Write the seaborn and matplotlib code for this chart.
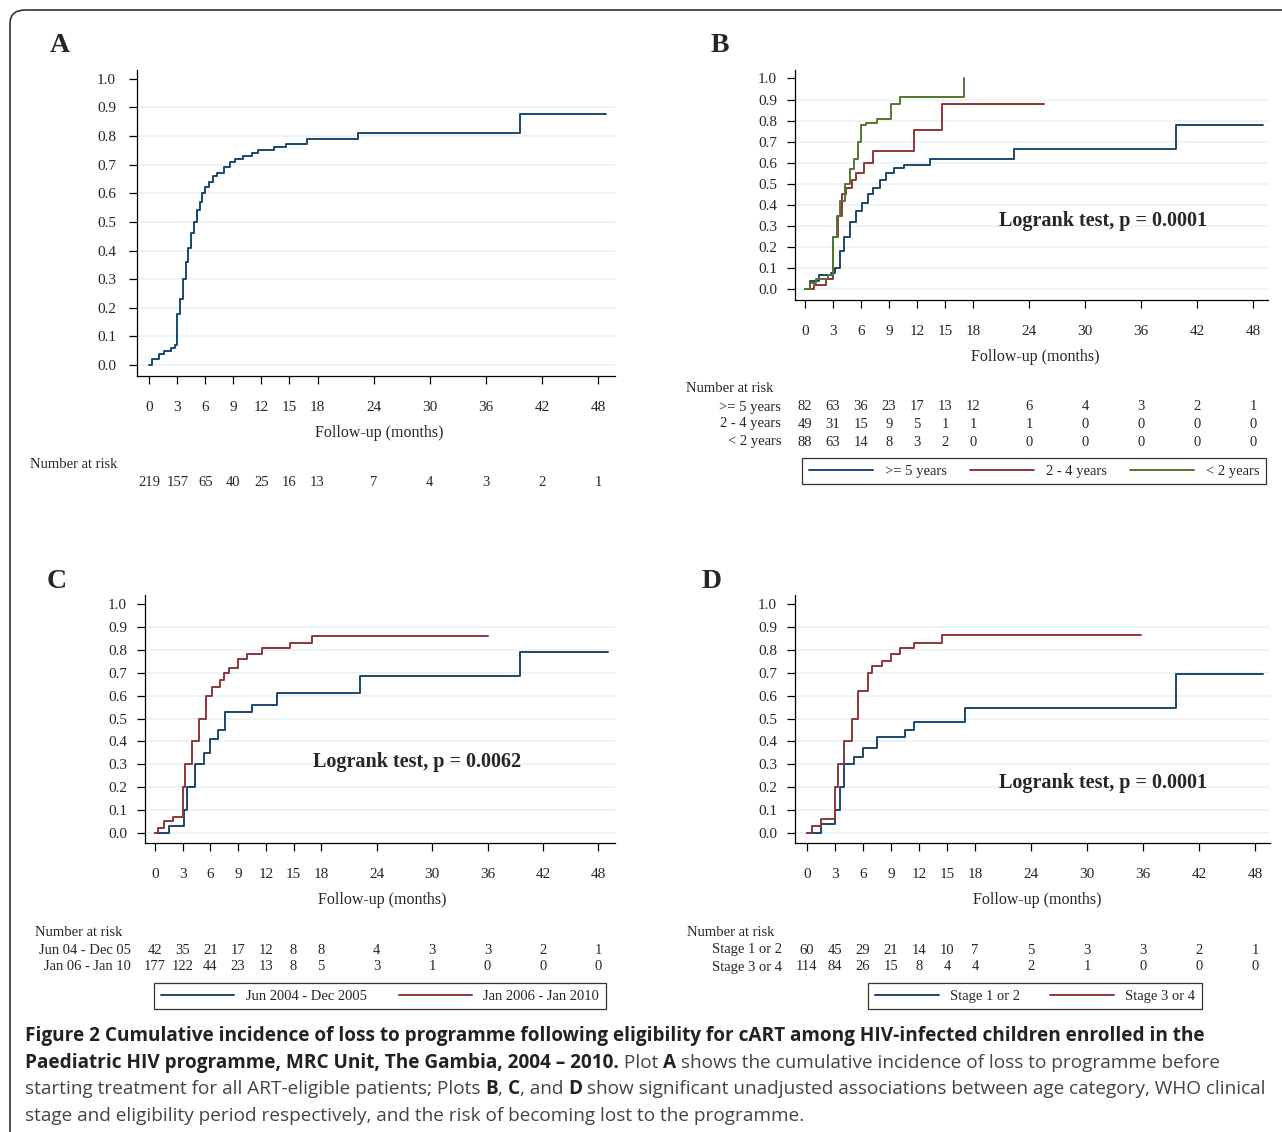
import matplotlib
matplotlib.use("Agg")
import matplotlib.pyplot as plt
import seaborn as sns
import pandas as pd
from matplotlib.patches import FancyBboxPatch
from matplotlib.lines import Line2D

sns.set_theme(style="white")
plt.rcParams['font.family'] = ['Liberation Serif', 'DejaVu Serif']

W, H = 1282, 1132
BLUE, RED, GREEN = "#1a476f", "#90353b", "#55752f"

xticks = [0, 3, 6, 9, 12, 15, 18, 24, 30, 36, 42, 48]
yticks = [0.0, 0.1, 0.2, 0.3, 0.4, 0.5, 0.6, 0.7, 0.8, 0.9, 1.0]

# ---- data (time in months, cumulative incidence) ----
A_t = [0, 0.3, 1.0, 1.6, 2.3, 2.8, 3.0, 3.3, 3.6, 3.9, 4.2, 4.5, 4.8, 5.1, 5.4, 5.7, 6.0, 6.4, 6.8, 7.3, 8.0, 8.6, 9.2, 10.0, 11.0, 11.6, 13.3, 14.6, 16.9, 22.3, 39.6, 48.8]
A_y = [0.0, 0.02, 0.04, 0.05, 0.06, 0.07, 0.18, 0.23, 0.30, 0.36, 0.41, 0.46, 0.50, 0.54, 0.57, 0.60, 0.62, 0.64, 0.66, 0.67, 0.69, 0.71, 0.72, 0.73, 0.74, 0.75, 0.76, 0.77, 0.79, 0.81, 0.875, 0.875]

B1_t = [0, 0.5, 1.5, 2.8, 3.2, 3.7, 4.2, 4.8, 5.5, 6.1, 6.7, 7.3, 8.0, 8.7, 9.5, 10.6, 13.4, 22.4, 39.7, 49.1]
B1_y = [0.0, 0.04, 0.07, 0.08, 0.10, 0.18, 0.25, 0.32, 0.37, 0.41, 0.45, 0.48, 0.52, 0.55, 0.575, 0.59, 0.62, 0.665, 0.78, 0.78]
B2_t = [0, 1.0, 2.2, 3.0, 3.5, 4.0, 4.4, 5.0, 5.5, 6.3, 7.3, 11.7, 14.7, 25.6]
B2_y = [0.0, 0.02, 0.05, 0.25, 0.35, 0.45, 0.48, 0.52, 0.55, 0.60, 0.655, 0.755, 0.88, 0.88]
B3_t = [0, 0.5, 1.2, 2.5, 2.97, 3.4, 3.8, 4.3, 4.8, 5.3, 5.7, 6.0, 6.5, 7.75, 9.2, 10.2, 17.0, 17.0]
B3_y = [0.0, 0.03, 0.05, 0.07, 0.25, 0.35, 0.42, 0.50, 0.57, 0.62, 0.70, 0.78, 0.79, 0.81, 0.88, 0.91, 0.91, 1.0]

C1_t = [0, 1.5, 3.1, 3.5, 4.3, 5.3, 6.0, 6.8, 7.6, 10.5, 13.2, 22.2, 39.5, 49.0]
C1_y = [0.0, 0.03, 0.10, 0.20, 0.30, 0.35, 0.41, 0.45, 0.53, 0.56, 0.61, 0.685, 0.79, 0.79]
C2_t = [0, 0.3, 1.0, 2.0, 3.0, 3.3, 4.0, 4.8, 5.5, 6.2, 7.0, 7.5, 8.0, 9.0, 10.0, 11.6, 14.6, 17.0, 36.0]
C2_y = [0.0, 0.02, 0.05, 0.07, 0.20, 0.30, 0.40, 0.50, 0.60, 0.64, 0.67, 0.70, 0.72, 0.76, 0.78, 0.81, 0.83, 0.86, 0.86]

D1_t = [0, 1.5, 3.0, 3.5, 4.0, 5.0, 6.0, 7.5, 10.5, 11.5, 16.9, 39.5, 48.9]
D1_y = [0.0, 0.04, 0.10, 0.20, 0.30, 0.33, 0.37, 0.42, 0.45, 0.485, 0.545, 0.695, 0.695]
D2_t = [0, 0.5, 1.5, 3.0, 3.3, 4.0, 4.8, 5.5, 6.5, 7.0, 8.0, 9.0, 10.0, 11.5, 14.5, 35.8]
D2_y = [0.0, 0.03, 0.06, 0.20, 0.30, 0.40, 0.50, 0.62, 0.70, 0.73, 0.75, 0.78, 0.81, 0.83, 0.865, 0.865]

A_risk = ["219", "157", "65", "40", "25", "16", "13", "7", "4", "3", "2", "1"]
B_groups = [">= 5 years", "2 - 4 years", "< 2 years"]
B_risk = [["82", "63", "36", "23", "17", "13", "12", "6", "4", "3", "2", "1"],
          ["49", "31", "15", "9", "5", "1", "1", "1", "0", "0", "0", "0"],
          ["88", "63", "14", "8", "3", "2", "0", "0", "0", "0", "0", "0"]]
C_groups = ["Jun 04 - Dec 05", "Jan 06 - Jan 10"]
C_legend = ["Jun 2004 - Dec 2005", "Jan 2006 - Jan 2010"]
C_risk = [["42", "35", "21", "17", "12", "8", "8", "4", "3", "3", "2", "1"],
          ["177", "122", "44", "23", "13", "8", "5", "3", "1", "0", "0", "0"]]
D_groups = ["Stage 1 or 2", "Stage 3 or 4"]
D_risk = [["60", "45", "29", "21", "14", "10", "7", "5", "3", "3", "2", "1"],
          ["114", "84", "26", "15", "8", "4", "4", "2", "1", "0", "0", "0"]]

fig = plt.figure(figsize=(W / 100, H / 100), dpi=100)
fig.patch.set_facecolor("white")

def fx(px): return px / W
def fy(py): return 1 - py / H

def make_ax(l, t, r, b, xl, yl, ylab_pad=9):
    ax = fig.add_axes([fx(l), fy(b), fx(r) - fx(l), fy(t) - fy(b)])
    ax.set_xlim(*xl); ax.set_ylim(*yl)
    ax.set_xticks(xticks); ax.set_xticklabels([str(v) for v in xticks])
    ax.set_yticks(yticks); ax.set_yticklabels([f"{v:.1f}" for v in yticks])
    for s in ["top", "right"]:
        ax.spines[s].set_visible(False)
    for s in ["left", "bottom"]:
        ax.spines[s].set_color("black"); ax.spines[s].set_linewidth(0.9)
    ax.tick_params(axis="both", direction="out", length=6, width=0.9, color="black",
                   labelsize=11, bottom=True, left=True)
    ax.tick_params(axis="x", pad=12)
    ax.tick_params(axis="y", pad=ylab_pad)
    for v in yticks[:-1]:
        ax.axhline(v, color="#eaf2f3", lw=1.2, zorder=0)
    ax.set_xlabel(""); ax.set_ylabel("")
    return ax

def curve(ax, t, y, c):
    df = pd.DataFrame({"t": t, "y": y})
    sns.lineplot(data=df, x="t", y="y", ax=ax, color=c, drawstyle="steps-post",
                 estimator=None, sort=False, lw=1.4)
    ax.set_xlabel(""); ax.set_ylabel("")

axA = make_ax(137, 70, 615, 376, (-1.3, 49.8), (-0.038, 1.03))
curve(axA, A_t, A_y, BLUE)
axB = make_ax(795, 70, 1268, 300, (-1.07, 49.6), (-0.05, 1.04), ylab_pad=7)
for t, y, c in [(B1_t, B1_y, BLUE), (B2_t, B2_y, RED), (B3_t, B3_y, GREEN)]:
    curve(axB, t, y, c)
axC = make_ax(145, 595, 615, 843, (-1.08, 49.8), (-0.044, 1.04), ylab_pad=7)
curve(axC, C1_t, C1_y, BLUE); curve(axC, C2_t, C2_y, RED)
axD = make_ax(795, 595, 1270, 843, (-1.28, 49.6), (-0.044, 1.04), ylab_pad=7)
curve(axD, D1_t, D1_y, BLUE); curve(axD, D2_t, D2_y, RED)

for L, x, y in [("A", 60, 46), ("B", 720, 46), ("C", 57, 581), ("D", 712, 581)]:
    fig.text(fx(x), fy(y), L, fontsize=20, fontweight="bold", ha="center", va="center")

for x, y in [(379, 433), (1035, 357), (382, 900), (1037, 900)]:
    fig.text(fx(x), fy(y), "Follow-up (months)", fontsize=11.5, ha="center", va="center")

for x, y, s in [(1103, 221, "Logrank test, p = 0.0001"), (417, 762, "Logrank test, p = 0.0062"),
                (1103, 783, "Logrank test, p = 0.0001")]:
    fig.text(fx(x), fy(y), s, fontsize=14.5, fontweight="bold", ha="center", va="center")

def risk_row(ax, vals, py):
    for xv, s in zip(xticks, vals):
        xp = ax.transData.transform((xv, 0))[0]
        fig.text(xp / W, fy(py), s, fontsize=10.5, ha="center", va="center")

fig.canvas.draw()
fig.text(fx(30), fy(465), "Number at risk", fontsize=10.5, ha="left", va="center")
risk_row(axA, A_risk, 483)
fig.text(fx(686), fy(389), "Number at risk", fontsize=10.5, ha="left", va="center")
for g, vals, py in zip(B_groups, B_risk, [407, 424, 442]):
    fig.text(fx(781), fy(py), g, fontsize=10.5, ha="right", va="center")
    risk_row(axB, vals, py)
fig.text(fx(35), fy(932), "Number at risk", fontsize=10.5, ha="left", va="center")
for g, vals, py in zip(C_groups, C_risk, [950, 967]):
    fig.text(fx(131), fy(py), g, fontsize=10.5, ha="right", va="center")
    risk_row(axC, vals, py)
fig.text(fx(687), fy(932), "Number at risk", fontsize=10.5, ha="left", va="center")
for g, vals, py in zip(D_groups, D_risk, [950, 967]):
    fig.text(fx(782), fy(py), g, fontsize=10.5, ha="right", va="center")
    risk_row(axD, vals, py)

def legend(labels, colors, cx, cy, hl, gap):
    hs = [Line2D([0], [0], color=c, lw=1.4) for c in colors]
    lg = fig.legend(hs, labels, loc="center", bbox_to_anchor=(fx(cx), fy(cy)), ncol=len(labels),
                    frameon=True, fancybox=False, edgecolor="black", handlelength=hl,
                    columnspacing=gap, handletextpad=0.8, borderpad=0.45, fontsize=10.5)
    lg.get_frame().set_linewidth(0.9)

legend(B_groups, [BLUE, RED, GREEN], 1034, 471, 4.4, 1.6)
legend(C_legend, [BLUE, RED], 380, 996, 5.0, 2.2)
legend(D_groups, [BLUE, RED], 1035, 996, 4.4, 2.0)

fig.patches.append(FancyBboxPatch((fx(10), fy(1200)), fx(1400), fy(10) - fy(1200),
                                  boxstyle="round,pad=0,rounding_size=0.012",
                                  transform=fig.transFigure, fill=False, ec="#333333", lw=1.2))

CF = ['Open Sans', 'DejaVu Sans']
lines = [
    [("Figure 2 Cumulative incidence of loss to programme following eligibility for cART among HIV-infected children enrolled in the", True)],
    [("Paediatric HIV programme, MRC Unit, The Gambia, 2004 \u2013 2010.", True), (" Plot ", False), ("A", True),
     (" shows the cumulative incidence of loss to programme before", False)],
    [("starting treatment for all ART-eligible patients; Plots ", False), ("B", True), (", ", False), ("C", True),
     (", and ", False), ("D", True), (" show significant unadjusted associations between age category, WHO clinical", False)],
    [("stage and eligibility period respectively, and the risk of becoming lost to the programme.", False)],
]
r = fig.canvas.get_renderer()
for i, runs in enumerate(lines):
    x = 25
    py = 1036 + i * 26.7
    for s, b in runs:
        t = fig.text(fx(x), fy(py), s, fontsize=13.7, family=CF, fontweight="bold" if b else "normal",
                     color="#222222" if b else "#444444", ha="left", va="center")
        ext = t.get_window_extent(renderer=r)
        x += ext.width

fig.savefig("out.png", dpi=100, facecolor="white")
